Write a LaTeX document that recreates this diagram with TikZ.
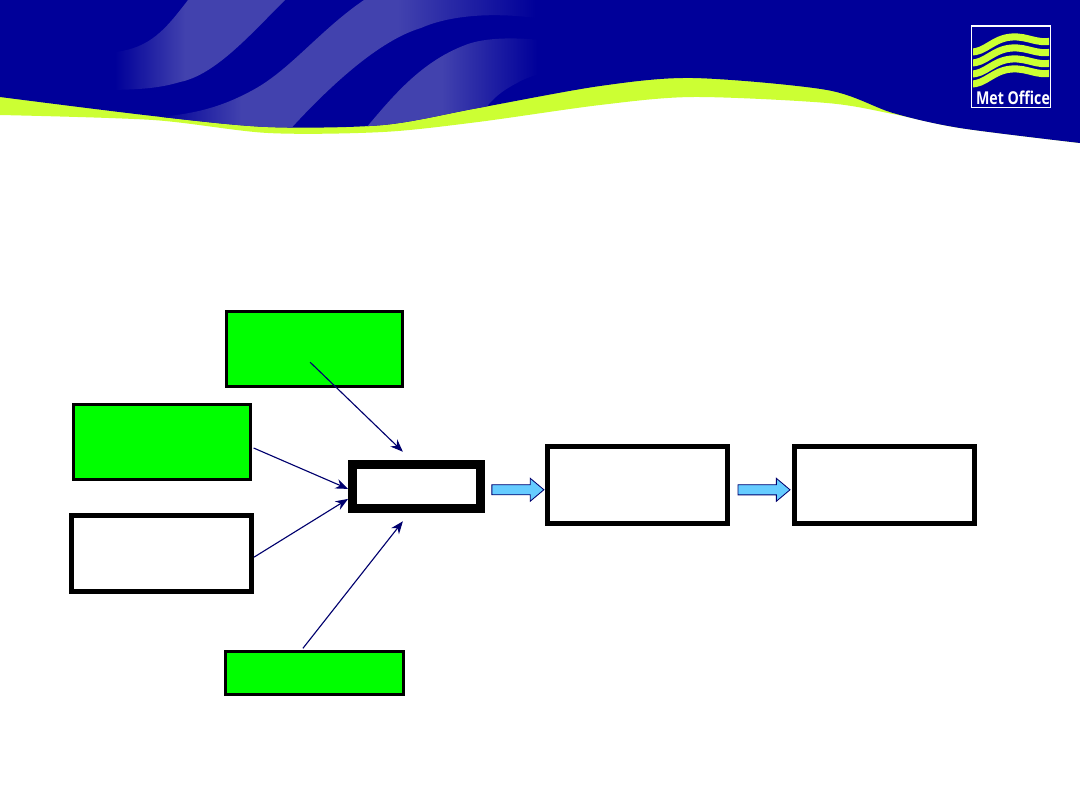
\documentclass[tikz,border=0pt]{standalone}
\usepackage{fontspec}
\usepackage{xcolor}
\usepackage{tikz}
\usetikzlibrary{positioning}
\usetikzlibrary{arrows.meta,shapes.arrows}
\usetikzlibrary{calc}
\newfontfamily\logofont{Open Sans}
\definecolor{hdrblue}{RGB}{0,0,153}
\definecolor{hdrstripe}{RGB}{66,66,174}
\definecolor{lime}{RGB}{204,255,51}
\definecolor{boxgreen}{RGB}{0,255,0}
\definecolor{arrownavy}{RGB}{0,0,110}
\definecolor{blockfill}{RGB}{102,204,255}
\pgfdeclarehorizontalshading{stripeone}{100bp}{color(0bp)=(hdrblue); color(29bp)=(hdrblue); color(48bp)=(hdrstripe); color(100bp)=(hdrstripe)}
\pgfdeclarehorizontalshading{stripetwo}{100bp}{color(0bp)=(hdrblue); color(27bp)=(hdrblue); color(36bp)=(hdrstripe); color(53bp)=(hdrstripe); color(68bp)=(hdrblue); color(100bp)=(hdrblue)}
\pgfdeclarehorizontalshading{stripethree}{100bp}{color(0bp)=(hdrstripe); color(42bp)=(hdrstripe); color(62bp)=(hdrblue); color(100bp)=(hdrblue)}
\tikzstyle{box}=[rectangle,draw=black,inner sep=0pt]
\tikzstyle{greenbox}=[box,fill=boxgreen,line width=2.2pt]
\tikzstyle{whitebox}=[box,fill=white,line width=3.7pt]
\tikzstyle{hubbox}=[box,fill=white,line width=6.2pt]
\tikzstyle{edge}=[draw,line width=0.8pt,arrownavy,-{Stealth[length=9pt,width=7pt]}]
\tikzstyle{blockarrow}=[single arrow,draw=arrownavy,fill=blockfill,line width=0.6pt,inner xsep=0pt,inner ysep=0.116cm,minimum height=1.3cm,single arrow head extend=0.16cm,single arrow tip angle=80]

\begin{document}
\begin{tikzpicture}[x=0.025cm,y=-0.025cm]
 \useasboundingbox (0,0) rectangle (1080,810);
 \fill[white] (0,0) rectangle (1080,810);

 %Header
 \fill[lime] (0,0) -- (0,115) -- plot[smooth] coordinates {(0,115) (153,120) (268,133) (383,132) (478,122) (600,105) (693,97) (827,103) (893,114) (960,128) (1080,143)} -- (1080,0) -- cycle;
 \path[save path=\hdrpath] (0,0) -- (0,97) -- plot[smooth] coordinates {(0,97) (153,116) (268,127) (383,125) (478,108) (600,86) (693,78) (827,90) (893,113) (960,128) (1080,143)} -- (1080,0) -- cycle;
 \fill[hdrblue, use path=\hdrpath];
 \begin{scope}
  \clip[use path=\hdrpath];
  \shade[shading=stripeone] (188,0) -- (285,0) .. controls (250,35) and (215,75) .. (180,82) .. controls (160,88) and (140,90) .. (100,90) -- (100,52) -- (115,52) .. controls (150,48) and (165,30) .. (188,0) -- cycle;
  \shade[shading=stripetwo] (364,0) .. controls (320,30) and (290,70) .. (253,90) .. controls (220,108) and (190,116) .. (140,118) -- (140,135) -- (285,135) .. controls (330,85) and (380,40) .. (421,28) .. controls (450,15) and (500,10) .. (560,22) -- (600,22) -- (600,0) -- cycle;
  \shade[shading=stripethree] (360,135) .. controls (390,100) and (420,60) .. (471,43) .. controls (500,35) and (540,38) .. (600,48) -- (600,67) .. controls (560,67) and (530,75) .. (517,83) .. controls (500,92) and (485,102) .. (470,135) -- cycle;
 \end{scope}

 %Logo
 \fill[hdrblue] (971.5,26) rectangle (1050.5,107.5);
 \begin{scope}
  \clip (973,28) rectangle (1049,106);
  \foreach \y in {50,61,72,82}
   \draw[lime, line width=5pt] (970,\y+2) .. controls (985,\y+3) and (993,\y-12) .. (1012,\y-13) .. controls (1028,\y-14) and (1036,\y-6) .. (1052,\y-9);
 \end{scope}
 \draw[white, line width=1.1pt] (971.5,26) rectangle (1050.5,107.5);
 \node[text=white, font=\logofont\bfseries\fontsize{12.6}{12.6}\selectfont, xscale=0.8, anchor=base, inner sep=0pt] (logotext) at (1013,104.5) {Met Office};

 %Sources
 \foreach \x/\y/\w/\h/\name in {314.5/349/176/75/topg, 162/442/177/75/leftg, 314.5/673/178/43/botg}
  \node[greenbox, minimum width=\w*0.025*1cm, minimum height=\h*0.025*1cm] (\name) at (\x,\y) {};

 \foreach \x/\y/\w/\h/\name in {161.5/553.5/180/76/leftw, 637.5/485/180/77/outa, 884.5/485/180/77/outb}
  \node[whitebox, minimum width=\w*0.025*1cm, minimum height=\h*0.025*1cm] (\name) at (\x,\y) {};

 %Hub
 \node[hubbox, minimum width=3.2cm, minimum height=1.1cm] (hub) at (416.5,486.5) {};

 %Inputs
 \path[edge] ([xshift=-0.11cm,yshift=-0.33cm]topg.center) -- ([xshift=-0.34cm,yshift=0.21cm]hub.north);
 \path[edge] ([xshift=0.04cm,yshift=-0.15cm]leftg.east) -- ([yshift=-0.06cm]hub.west);
 \path[edge] ([yshift=-0.09cm]leftw.east) -- ([yshift=-0.31cm]hub.west);
 \path[edge] ([xshift=-0.29cm,yshift=0.04cm]botg.north) -- ([xshift=-0.34cm,yshift=-0.21cm]hub.south);

 %Outputs
 \node[blockarrow, yshift=-0.1cm] (ba1) at ($(hub.east)!0.5!(outa.west)$) {};
 \node[blockarrow, yshift=-0.12cm] (ba2) at ($(outa.east)!0.5!(outb.west)$) {};

\end{tikzpicture}
\end{document}
